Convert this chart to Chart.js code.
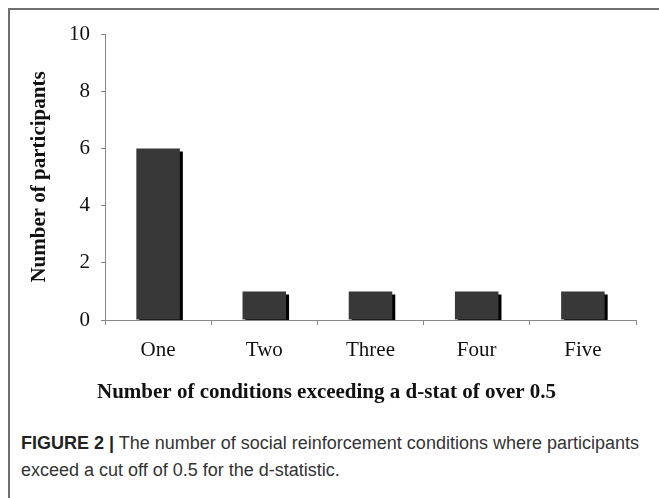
<!DOCTYPE html>
<html>
<head>
<meta charset="utf-8">
<script src="https://cdn.jsdelivr.net/npm/chart.js@4.4.0/dist/chart.umd.min.js"></script>
<style>
  html, body { margin: 0; padding: 0; background: #fff; }
  #frame { position: absolute; left: 8px; top: 8px; width: 660px; height: 500px;
           border-left: 2px solid #6f6f6f; border-top: 2px solid #6f6f6f; box-sizing: border-box; }
  #wrap { position: absolute; left: 0; top: 0; width: 659px; height: 415px; }
  #caption { position: absolute; left: 21px; top: 430px; width: 638px; white-space: nowrap;
             font-family: "Liberation Sans", Arial, sans-serif; font-size: 18px; line-height: 27px; color: #333; }
  #caption b { font-weight: bold; color: #222; }
</style>
</head>
<body>
<div id="frame"></div>
<div id="wrap"><canvas id="c" width="659" height="415"></canvas></div>
<div id="caption"><b>FIGURE 2 |</b> The number of social reinforcement conditions where participants<br>exceed a cut off of 0.5 for the d-statistic.</div>
<script>
const categories = ["One", "Two", "Three", "Four", "Five"];
const participants = [6, 1, 1, 1, 1];
const yTicks = [0, 2, 4, 6, 8, 10];
const xTitle = "Number of conditions exceeding a d-stat of over 0.5";
const yTitle = "Number of participants";

const shadowPlugin = {
  id: 'barShadow',
  beforeDatasetDraw(chart) {
    const ctx = chart.ctx;
    ctx.save();
    ctx.shadowColor = '#000';
    ctx.shadowOffsetX = 3;
    ctx.shadowOffsetY = 3;
    ctx.shadowBlur = 0;
  },
  afterDatasetDraw(chart) {
    chart.ctx.restore();
  }
};

const serif = '"Liberation Serif", "Times New Roman", serif';
const titleFont = { family: serif, size: 21, weight: 'bold', lineHeight: 1.2 };

new Chart(document.getElementById('c'), {
  type: 'bar',
  data: {
    labels: categories,
    datasets: [{
      data: participants,
      backgroundColor: '#383838',
      borderWidth: 0,
      barPercentage: 0.41,
      categoryPercentage: 1.0,
      clip: { left: 0, top: 10, right: 10, bottom: 0 }
    }]
  },
  options: {
    responsive: false,
    animation: false,
    events: [],
    layout: { padding: { left: 17, right: 23, top: 34, bottom: 0 } },
    plugins: {
      legend: { display: false },
      tooltip: { enabled: false },
      title: { display: true, position: 'bottom', text: xTitle, font: titleFont, color: '#111', padding: { top: 8, bottom: 10 } }
    },
    scales: {
      x: {
        grid: { display: true, drawOnChartArea: false, drawTicks: true, tickLength: 5, color: '#888', offset: true },
        border: { display: true, color: '#888', width: 1 },
        ticks: { font: { family: serif, size: 21 }, color: '#111', padding: 13 },
        afterFit(scale) { scale.height = 415 - 320 - (21 * 1.2 + 18); }
      },
      y: {
        min: 0, max: 10,
        afterBuildTicks(scale) { scale.ticks = yTicks.map(v => ({ value: v })); },
        grid: { display: true, drawOnChartArea: false, drawTicks: true, tickLength: 4, color: '#888' },
        border: { display: true, color: '#888', width: 1 },
        ticks: { font: { family: serif, size: 21 }, color: '#111', padding: 11 },
        title: { display: true, text: yTitle, font: titleFont, color: '#111', padding: { top: 10, bottom: 10 } },
        afterFit(scale) { scale.width = 105 - 17; }
      }
    }
  },
  plugins: [shadowPlugin]
});
</script>
</body>
</html>
